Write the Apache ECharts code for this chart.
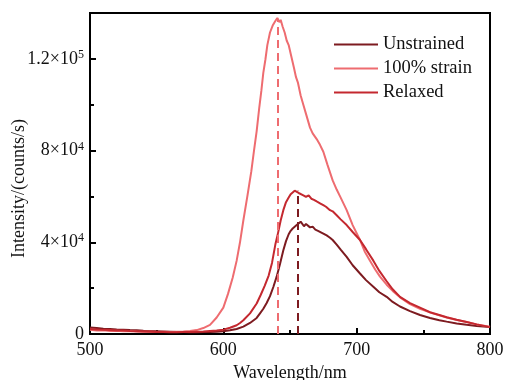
<!DOCTYPE html>
<html><head><meta charset="utf-8">
<script src="https://cdn.jsdelivr.net/npm/echarts@6/dist/echarts.min.js"></script>
<style>html,body{margin:0;padding:0;background:#fff}#c{width:506px;height:380px}</style>
</head><body><div id="c"></div>
<script>
const seriesNames = ['Unstrained', '100% strain', 'Relaxed'];
const xTicks = [500, 600, 700, 800];
const yTickLabels = {0: '0', 40000: '4×10|4', 80000: '8×10|4', 120000: '1.2×10|5'};

const unstrained = [
[500,2800],[505,2600],[510,2300],[515,2200],[520,2000],[525,1900],[530,1700],[535,1600],[540,1400],[545,1300],[550,1200],[555,1100],[560,1000],[565,900],[570,900],[575,800],[580,800],[585,900],[590,900],[595,1000],[600,1200],[605,1600],[610,2200],[615,3200],[620,4800],[625,7000],[627.5,9000],[630,11000],[632.5,13500],[635,16500],[637.5,20500],[640,25000],[642.5,30500],[645,36500],[647,40500],[649,43500],[650.5,45000],[652,46000],[653.5,46500],[655,47500],[656.5,48000],[658,49000],[659,48500],[660.5,47000],[662,48000],[663.5,47200],[665,46500],[667,46800],[669,45500],[671,45000],[672.5,44500],[675,43800],[677.5,43000],[680,42000],[682,41000],[685,39000],[688,36800],[692.5,33600],[697,30000],[702.5,26400],[707,23500],[712.5,20600],[717,18200],[722.5,16200],[727,14000],[732.5,12000],[740,10000],[747.5,8300],[755,7000],[762,6000],[767.5,5400],[775,4600],[782.5,4000],[790,3500],[800,3000]
];
const strain100 = [
[500,1800],[505,1500],[510,1600],[515,1300],[520,1400],[525,1200],[530,1300],[535,1100],[540,1000],[545,1100],[550,900],[555,1000],[560,900],[565,1000],[570,1100],[575,1300],[580,1700],[585,2600],[590,4000],[595,7200],[600,11500],[603.5,17500],[607,24500],[610,32000],[612.5,40000],[615,49500],[618,60000],[621,71000],[623,80000],[625,88500],[627,99000],[628.5,106000],[630,114000],[631.5,119500],[633,126000],[635,131500],[637,134500],[639,136500],[640.5,137800],[642,136000],[643,137000],[644.5,134000],[646,131500],[647.5,128000],[649,126000],[651,121000],[653,116000],[654.5,112000],[656,109500],[658,104000],[660,100000],[662,96000],[665,90000],[667,87500],[670,85000],[672.5,82500],[675,79500],[678,74000],[682,67000],[685,63000],[688,59500],[692.5,54000],[697,47500],[702.5,41000],[706,36000],[710,32000],[714,28000],[717.5,25000],[722.5,21500],[727,18800],[732.5,16000],[740,13000],[747.5,11000],[757,9000],[767.5,7200],[775,6100],[782.5,5200],[790,4200],[800,3200]
];
const relaxed = [
[500,2200],[505,2000],[510,1800],[515,1700],[520,1500],[525,1500],[530,1300],[535,1200],[540,1100],[545,1000],[550,900],[555,900],[560,800],[565,800],[570,900],[575,900],[580,1000],[585,1100],[590,1300],[595,1500],[600,1900],[605,2700],[610,3800],[612.5,4800],[615,6000],[620,9000],[625,13300],[628,17000],[631,21000],[634,25500],[636.5,31000],[639,39000],[641,44000],[643,49500],[645,54000],[647,57500],[649,59500],[650.5,61000],[652,60500],[653.5,62500],[655,63000],[656.5,61500],[658,62200],[660,60500],[662,59800],[664,60500],[666,59000],[668,58500],[670,57800],[672.5,57000],[675,56200],[677,55500],[680,54000],[682,53500],[685,51800],[688,50000],[692.5,47500],[697,44500],[702.5,41000],[707,37000],[712.5,32000],[717,27500],[722.5,23000],[727,19500],[732.5,16200],[740,13500],[747.5,11500],[755,9500],[762,8300],[767.5,7300],[775,6200],[782.5,5200],[790,4200],[800,3000]
];
const peakStrain = [641, 137500];
const peakRelaxed = [656, 62500];

const colors = ['#7d1b20', '#ee6c70', '#c4282f'];
const font = 'Liberation Serif';
const chart = echarts.init(document.getElementById('c'));
function mk(name, data, color, mark) {
  const s = {name, type: 'line', data, symbol: 'none', smooth: false,
    lineStyle: {color, width: 2}, itemStyle: {color}, z: 3};
  if (mark) {
    s.markLine = {silent: true, symbol: 'none', label: {show: false},
      lineStyle: {color, width: 2, type: [8, 5]},
      data: [[{coord: [mark[0], 0]}, {coord: [mark[0], mark[1]]}]]};
  }
  return s;
}
chart.setOption({
  animation: false,
  grid: {left: 90, right: 16, top: 13, bottom: 46, show: true, borderColor: '#000', borderWidth: 2,
    containLabel: false, outerBoundsMode: 'none'},
  legend: {orient: 'vertical', left: 329, top: 30, itemWidth: 44, itemHeight: 14, itemGap: 5,
    icon: 'path://M0,6 L44,6 L44,8 L0,8 Z',
    textStyle: {fontFamily: font, fontSize: 18.5, color: '#111'},
    data: seriesNames},
  xAxis: {type: 'value', min: 500, max: 800, interval: 100,
    name: 'Wavelength/nm', nameLocation: 'middle', nameGap: 30, nameMoveOverlap: false,
    nameTextStyle: {fontFamily: font, fontSize: 18, color: '#111'},
    axisLine: {show: true, lineStyle: {color: '#000', width: 2}},
    axisTick: {inside: true, length: 6, lineStyle: {color: '#000', width: 2}},
    minorTick: {show: true, splitNumber: 2, length: 4, lineStyle: {color: '#000', width: 2}},
    splitLine: {show: false},
    axisLabel: {fontFamily: font, fontSize: 18, color: '#111', margin: 7,
      formatter: v => xTicks.includes(v) ? String(v) : ''}},
  yAxis: {type: 'value', min: 0, max: 140000, interval: 40000,
    name: 'Intensity/(counts/s)', nameLocation: 'middle', nameGap: 62, nameMoveOverlap: false,
    nameTextStyle: {fontFamily: font, fontSize: 18, color: '#111', padding: [0, 30, 0, 0]},
    axisLine: {show: true, lineStyle: {color: '#000', width: 2}},
    axisTick: {inside: true, length: 6, lineStyle: {color: '#000', width: 2}},
    minorTick: {show: true, splitNumber: 2, length: 4, lineStyle: {color: '#000', width: 2}},
    splitLine: {show: false},
    axisLabel: {fontFamily: font, fontSize: 18, color: '#111', margin: 6,
      formatter: v => {
        const t = yTickLabels[v];
        if (t === undefined) return '';
        if (t.indexOf('|') < 0) return t;
        const p = t.split('|');
        return '{b|' + p[0] + '}{s|' + p[1] + '}';
      },
      rich: {b: {fontFamily: font, fontSize: 18, color: '#111'},
             s: {fontFamily: font, fontSize: 12, color: '#111', verticalAlign: 'top', padding: [0, 0, 8, 0]}}}},
  series: [
    mk(seriesNames[0], unstrained, colors[0], null),
    mk(seriesNames[1], strain100, colors[1], peakStrain),
    mk(seriesNames[2], relaxed, colors[2], null),
    {name: 'peak2', type: 'line', data: [], markLine: {silent: true, symbol: 'none', label: {show: false},
      lineStyle: {color: colors[0], width: 2, type: [8, 5]},
      data: [[{coord: [peakRelaxed[0], 0]}, {coord: [peakRelaxed[0], peakRelaxed[1]]}]]}}
  ]
});
</script></body></html>
